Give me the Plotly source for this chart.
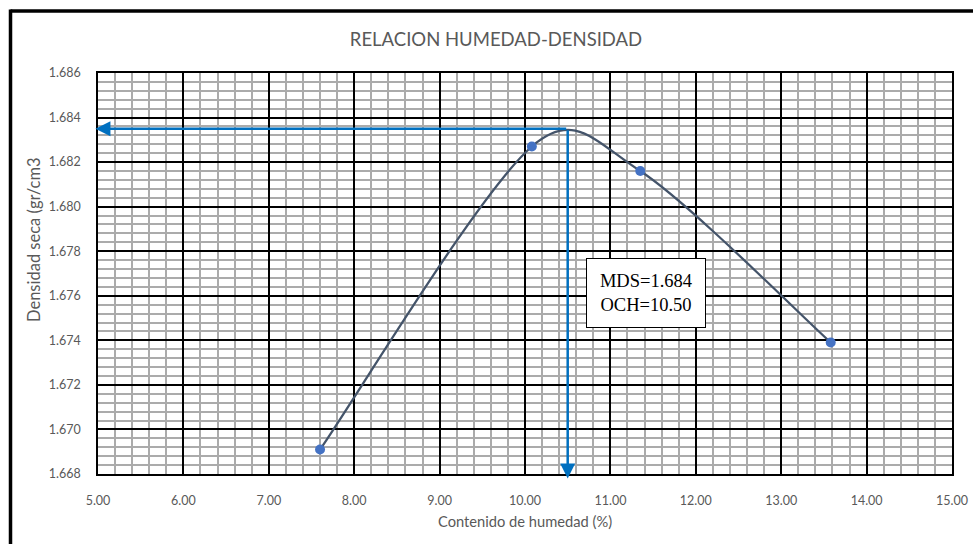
import math
import plotly.graph_objects as go

# Data
humedad = [7.60, 10.08, 11.35, 13.58]
densidad = [1.6691, 1.6827, 1.6816, 1.6739]
och = 10.50
mds = 1.6835
x_ticks = [5, 6, 7, 8, 9, 10, 11, 12, 13, 14, 15]
y_ticks = [1.668, 1.670, 1.672, 1.674, 1.676, 1.678, 1.680, 1.682, 1.684, 1.686]

GREY = "#595959"
FONT = "Lato"
X_RANGE = [5, 15]
Y_RANGE = [1.668, 1.686]
ML, MR, MT, MB = 98, 21, 73, 70
W, H = 973, 544
PW, PH = W - ML - MR, H - MT - MB

# Excel-style smoothed line: cubic Bezier segments, control points from neighbours
sx = PW / (X_RANGE[1] - X_RANGE[0])
sy = PH / (Y_RANGE[1] - Y_RANGE[0])


def pdist(a, b):
    return math.hypot((a[0] - b[0]) * sx, (a[1] - b[1]) * sy)


pts = list(zip(humedad, densidad))
path = f"M {pts[0][0]},{pts[0][1]}"
for i in range(len(pts) - 1):
    p0 = pts[i - 1] if i > 0 else pts[i]
    p1, p2 = pts[i], pts[i + 1]
    p3 = pts[i + 2] if i + 2 < len(pts) else pts[i + 1]
    d12 = pdist(p1, p2)
    d02 = pdist(p0, p2)
    d13 = pdist(p1, p3)
    f0 = 1 / 6 if d02 / 6 < d12 / 2 else d12 / d02 / 2
    f3 = 1 / 6 if d13 / 6 < d12 / 2 else d12 / d13 / 2
    c1 = (p1[0] + (p2[0] - p0[0]) * f0, p1[1] + (p2[1] - p0[1]) * f0)
    c2 = (p2[0] - (p3[0] - p1[0]) * f3, p2[1] - (p3[1] - p1[1]) * f3)
    path += f" C {c1[0]},{c1[1]} {c2[0]},{c2[1]} {p2[0]},{p2[1]}"

fig = go.Figure()
fig.add_shape(type="path", path=path, xref="x", yref="y", layer="between",
              line=dict(color="#44546A", width=2.25))
fig.add_trace(go.Scatter(
    x=humedad, y=densidad, mode="markers",
    marker=dict(color="#4472C4", size=10),
    showlegend=False,
))

fig.update_layout(
    width=W, height=H,
    margin=dict(l=ML, r=MR, t=MT, b=MB, autoexpand=False),
    paper_bgcolor="white", plot_bgcolor="white",
    font=dict(family=FONT, color=GREY, size=12),
    title=dict(text="RELACION HUMEDAD-DENSIDAD", x=496 / 973, xanchor="center",
               y=1 - 40 / 544, yanchor="middle",
               font=dict(family=FONT, size=18.5, color=GREY)),
    showlegend=False,
)

fig.update_xaxes(
    range=X_RANGE, tickvals=x_ticks, tickformat=".2f", automargin=False,
    showgrid=True, gridcolor="black", gridwidth=1.5,
    minor=dict(dtick=0.2, showgrid=True, gridcolor="#ABABAB", gridwidth=1.5),
    showline=True, linecolor="black", linewidth=1.5, mirror=True,
    zeroline=False, ticks="", ticklabelstandoff=14,
    tickfont=dict(size=12.5, color=GREY, family=FONT),
)
fig.update_yaxes(
    range=Y_RANGE, tickvals=y_ticks, tickformat=".3f", automargin=False,
    showgrid=True, gridcolor="black", gridwidth=1.5,
    minor=dict(dtick=0.0004, showgrid=True, gridcolor="#ABABAB", gridwidth=1.5, tick0=1.668),
    showline=True, linecolor="black", linewidth=1.5, mirror=True,
    zeroline=False, ticks="", ticklabelstandoff=13,
    tickfont=dict(size=12.5, color=GREY, family=FONT),
)

# Axis titles as annotations
fig.add_annotation(
    text="Contenido de humedad (%)", xref="paper", yref="paper",
    x=(525 - ML) / PW, y=(MT + PH - 521) / PH, xanchor="center", yanchor="middle",
    showarrow=False, font=dict(size=14.7, color=GREY, family=FONT),
)
fig.add_annotation(
    text="Densidad seca (gr/cm3", textangle=-90, xref="paper", yref="paper",
    x=(34 - ML) / PW, y=(MT + PH - 240) / PH, xanchor="center", yanchor="middle",
    showarrow=False, font=dict(size=16.5, color=GREY, family=FONT),
)

# Arrows
ARROW = "#0070C0"
fig.add_annotation(x=4.97, y=mds, ax=och, ay=mds, xref="x", yref="y", axref="x", ayref="y",
                   text="", showarrow=True, arrowhead=2, arrowsize=1.2, arrowwidth=2.5,
                   arrowcolor=ARROW)
fig.add_annotation(x=och, y=1.6678, ax=och, ay=mds, xref="x", yref="y", axref="x", ayref="y",
                   text="", showarrow=True, arrowhead=2, arrowsize=1.2, arrowwidth=2.5,
                   arrowcolor=ARROW)

# Result box
fig.add_annotation(
    x=11.42, y=1.67613, xref="x", yref="y",
    text="MDS=1.684<br>OCH=10.50", showarrow=False,
    font=dict(family="Liberation Serif", size=18.5, color="black"),
    bgcolor="white", bordercolor="black", borderwidth=1, borderpad=0,
    width=118, height=68, align="center",
)

# Outer frame (top and left edges)
fig.add_shape(type="line", xref="paper", yref="paper",
              x0=(10.5 - ML) / PW, x1=(990 - ML) / PW,
              y0=(MT + PH - 11) / PH, y1=(MT + PH - 11) / PH,
              line=dict(color="black", width=3.5))
fig.add_shape(type="line", xref="paper", yref="paper",
              x0=(10.5 - ML) / PW, x1=(10.5 - ML) / PW,
              y0=(MT + PH - 9.5) / PH, y1=(MT + PH - 560) / PH,
              line=dict(color="black", width=3.5))

fig.write_html("out.html")
